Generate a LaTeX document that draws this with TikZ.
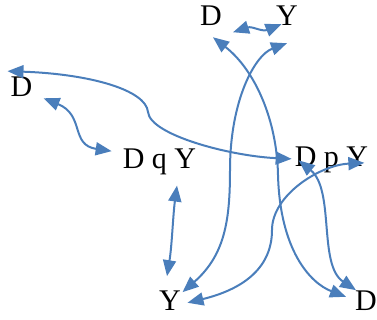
\documentclass[tikz,border=0pt]{standalone}
\usepackage{fontspec}
\setmainfont{Liberation Serif}
\usetikzlibrary{arrows.meta}
\definecolor{linkblue}{RGB}{74,126,187}

\begin{document}
\begin{tikzpicture}[x=1pt, y=-1pt,
        every node/.style={font=\fontsize{30}{35}\selectfont, inner sep=0pt, anchor=base},
        link/.style={linkblue, line width=2pt,
            {Triangle[length=16pt, width=13pt]}-{Triangle[length=16pt, width=13pt]}}]
    \useasboundingbox (0,0) rectangle (377,320);

    % the seven labels
    \node (d-top) at (211,26) {D};
    \node (y-top) at (287,26) {Y};
    \node (d-left) at (21.5,97) {D};
    \node (dqy) at (159.5,169) {D q Y};
    \node (dpy) at (331.5,167) {D p Y};
    \node (y-bot) at (170,310) {Y};
    \node (d-bot) at (366,310) {D};

    % connectors
    \draw[link] ([shift={(11,6)}]d-top.south east)
        .. controls (252,26) and (262,32) .. ([shift={(5.5,-2)}]y-top.south west);
    \draw[link] ([shift={(11,1)}]d-left.south east)
        .. controls (85,115) and (70,145) .. ([shift={(-11,2)}]dqy.north west);
    \draw[link] ([shift={(-3,-6)}]d-left.north west)
        .. controls (90,74) and (146,90) .. (148,112)
        .. controls (150,135) and (230,156) .. ([shift={(-3,-1.5)}]dpy.west);
    \draw[link] ([shift={(2,11)}]d-top.south)
        .. controls (255,70) and (277,120) .. (278,175)
        .. controls (280,250) and (310,283) .. ([shift={(-9,-3.4)}]d-bot.west);
    \draw[link] ([shift={(1.5,2)}]y-bot.north east)
        .. controls (225,255) and (230,220) .. (230,170)
        .. controls (230,100) and (255,55) .. ([shift={(0,17)}]y-top.south);
    \draw[link] ([shift={(17.5,10)}]dqy.south)
        .. controls (173,215) and (172,245) .. ([shift={(-3,-14)}]y-bot.north);
    \draw[link] ([shift={(4,0)}]dpy.west)
        .. controls (335,190) and (318,265) .. ([shift={(1,0)}]d-bot.north west);
    \draw[link] ([shift={(6.5,2.6)}]y-bot.east)
        .. controls (240,290) and (272,270) .. (272,230)
        .. controls (272,195) and (320,165) .. ([shift={(-4,2.5)}]dpy.east);
\end{tikzpicture}
\end{document}
